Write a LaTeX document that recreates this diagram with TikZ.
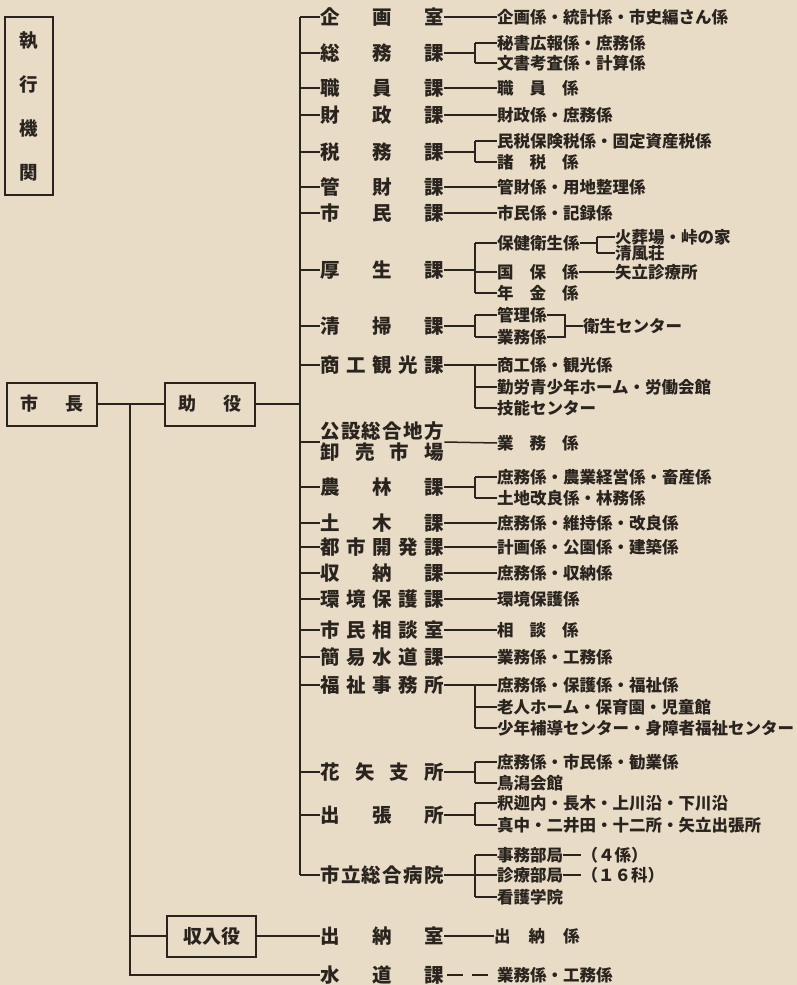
\documentclass[tikz,border=0pt]{standalone}
\usepackage{fontspec}
\newfontfamily\jp{Noto Sans CJK JP}
\usetikzlibrary{positioning}
\definecolor{paper}{RGB}{233,220,199}
\definecolor{ink}{RGB}{42,36,30}

\begin{document}
\begin{tikzpicture}[
    x=1pt, y=-1pt,
    link/.style={draw=ink, line width=1.5pt},
    frame/.style={draw=ink, line width=2pt, inner sep=0pt, text=ink, font=\jp\bfseries\fontsize{18}{18}\selectfont},
    dept/.style={anchor=west, inner sep=0pt, text width=124pt, text=ink, font=\jp\bfseries\fontsize{19.5}{21}\selectfont},
    item/.style={anchor=west, inner sep=0pt, text=ink, font=\jp\bfseries\fontsize{16.5}{17}\selectfont}
  ]
    \fill[paper] (0,0) rectangle (797,985);
    \useasboundingbox (0,0) rectangle (797,985);
    \node[frame, minimum width=48pt, minimum height=178pt, align=center, font=\jp\bfseries\fontsize{18.5}{44}\selectfont] (exec) at (29,106) {執\\行\\機\\関};
    \node[frame, minimum width=90pt, minimum height=43pt] (mayor) at (52,404) {市\hspace{27pt}長};
    \node[frame, minimum width=90pt, minimum height=43pt] (deputy) at (210,404) {助\hspace{27pt}役};
    \node[frame, minimum width=89pt, minimum height=41pt, font=\jp\bfseries\fontsize{19}{19}\selectfont] (treas) at (211.5,936) {収入役};
    \node[dept] (d1) at (320,17) {企\hfill 画\hfill 室};
    \node[dept] (d2) at (320,53) {総\hfill 務\hfill 課};
    \node[dept] (d3) at (320,88) {職\hfill 員\hfill 課};
    \node[dept] (d4) at (320,115) {財\hfill 政\hfill 課};
    \node[dept] (d5) at (320,152) {税\hfill 務\hfill 課};
    \node[dept] (d6) at (320,187) {管\hfill 財\hfill 課};
    \node[dept] (d7) at (320,213) {市\hfill 民\hfill 課};
    \node[dept] (d8) at (320,270) {厚\hfill 生\hfill 課};
    \node[dept] (d9) at (320,326) {清\hfill 掃\hfill 課};
    \node[dept] (d10) at (320,365) {商\hfill 工\hfill 観\hfill 光\hfill 課};
    \node[dept] (d11) at (320,442) {公\hfill 設\hfill 総\hfill 合\hfill 地\hfill 方\\卸\hfill 売\hfill 市\hfill 場};
    \node[dept] (d12) at (320,487) {農\hfill 林\hfill 課};
    \node[dept] (d13) at (320,523) {土\hfill 木\hfill 課};
    \node[dept] (d14) at (320,547) {都\hfill 市\hfill 開\hfill 発\hfill 課};
    \node[dept] (d15) at (320,573) {収\hfill 納\hfill 課};
    \node[dept] (d16) at (320,599) {環\hfill 境\hfill 保\hfill 護\hfill 課};
    \node[dept] (d17) at (320,630) {市\hfill 民\hfill 相\hfill 談\hfill 室};
    \node[dept] (d18) at (320,657) {簡\hfill 易\hfill 水\hfill 道\hfill 課};
    \node[dept] (d19) at (320,685) {福\hfill 祉\hfill 事\hfill 務\hfill 所};
    \node[dept] (d20) at (320,772) {花\hfill 矢\hfill 支\hfill 所};
    \node[dept] (d21) at (320,815) {出\hfill 張\hfill 所};
    \node[dept] (d22) at (320,875) {市\hfill 立\hfill 総\hfill 合\hfill 病\hfill 院};
    \node[dept] (c1) at (320,936) {出\hfill 納\hfill 室};
    \node[dept] (w1) at (320,975) {水\hfill 道\hfill 課};
    \node[item] (s1) at (497,17) {企画係・統計係・市史編さん係};
    \node[item] (s2a) at (497,43) {秘書広報係・庶務係};
    \node[item] (s2b) at (497,63) {文書考査係・計算係};
    \node[item] (s3) at (497,88) {職\hspace{16pt}員\hspace{16pt}係};
    \node[item] (s4) at (497,115) {財政係・庶務係};
    \node[item] (s5a) at (497,141) {民税保険税係・固定資産税係};
    \node[item] (s5b) at (497,162) {諸\hspace{16pt}税\hspace{16pt}係};
    \node[item] (s6) at (497,187) {管財係・用地整理係};
    \node[item] (s7) at (497,213) {市民係・記録係};
    \node[item] (s8a) at (497,243) {保健衛生係};
    \node[item] (s8b) at (497,272) {国\hspace{16pt}保\hspace{16pt}係};
    \node[item] (s8c) at (497,293) {年\hspace{16pt}金\hspace{16pt}係};
    \node[item] (t8a) at (615,237) {火葬場・峠の家};
    \node[item] (t8b) at (615,253) {清風荘};
    \node[item] (t8c) at (615,272) {矢立診療所};
    \node[item] (s9a) at (497,315) {管理係};
    \node[item] (s9b) at (497,337) {業務係};
    \node[item] (t9) at (583,326) {衛生センター};
    \node[item] (s10a) at (497,365) {商工係・観光係};
    \node[item] (s10b) at (497,387) {勤労青少年ホーム・労働会館};
    \node[item] (s10c) at (497,408) {技能センター};
    \node[item] (s11) at (497,443) {業\hspace{16pt}務\hspace{16pt}係};
    \node[item] (s12a) at (497,477) {庶務係・農業経営係・畜産係};
    \node[item] (s12b) at (497,498) {土地改良係・林務係};
    \node[item] (s13) at (497,523) {庶務係・維持係・改良係};
    \node[item] (s14) at (497,547) {計画係・公園係・建築係};
    \node[item] (s15) at (497,573) {庶務係・収納係};
    \node[item] (s16) at (497,599) {環境保護係};
    \node[item] (s17) at (497,630) {相\hspace{16pt}談\hspace{16pt}係};
    \node[item] (s18) at (497,657) {業務係・工務係};
    \node[item] (s19a) at (497,685) {庶務係・保護係・福祉係};
    \node[item] (s19b) at (497,707) {老人ホーム・保育園・児童館};
    \node[item] (s19c) at (497,728) {少年補導センター・身障者福祉センター};
    \node[item] (s20a) at (497,762) {庶務係・市民係・勧業係};
    \node[item] (s20b) at (497,783) {鳥潟会館};
    \node[item] (s21a) at (497,803) {釈迦内・長木・上川沿・下川沿};
    \node[item] (s21b) at (497,825) {真中・二井田・十二所・矢立出張所};
    \node[item] (s22a) at (497,855) {事務部局};
    \node[item] (s22b) at (497,875) {診療部局};
    \node[item] (s22c) at (497,897) {看護学院};
    \node[item, right=18pt of s22a] (u22a) {（４係）};
    \node[item, right=18pt of s22b] (u22b) {（１６科）};
    \node[item] (c1s) at (494,936) {出\hspace{18pt}納\hspace{18pt}係};
    \node[item] (w1s) at (497,975) {業務係・工務係};
    \coordinate (trunk) at (300,0);
    \coordinate (br) at (475,0);
    \coordinate (br2) at (597,0);
    \coordinate (br3) at (565,0);
    \coordinate (jct) at (130,404);
    \draw[link] (mayor.east) -- (deputy.west);
    \draw[link] (deputy.east) -- (trunk |- deputy.east);
    \draw[link] (jct) -- (jct |- w1.west) -- (w1.west);
    \draw[link] (jct |- treas.west) -- (treas.west);
    \draw[link] (treas.east) -- (c1.west);
    \draw[link] (c1.east) -- (c1s.west);
    \draw[link, dash pattern=on 16pt off 9pt, shorten <=3pt, shorten >=9pt] (w1.east) -- (w1s.west);
    \draw[link] (trunk |- d1.west) -- (trunk |- d22.west);
    \foreach \n in {1,...,22}
      \draw[link] (trunk |- d\n.west) -- (d\n.west);
    \foreach \n in {1,3,4,6,7,11,13,14,15,16,17,18}
      \draw[link] (d\n.east) -- (s\n.west);
    \foreach \n/\f/\l in {2/a/b, 5/a/b, 8/a/c, 9/a/b, 10/a/c, 12/a/b, 19/a/c, 20/a/b, 21/a/b, 22/a/c} {
      \draw[link] (d\n.east) -- (br |- d\n.east);
      \draw[link] (br |- s\n\f.west) -- (br |- s\n\l.west);
    }
    \foreach \s in {2a,2b,5a,5b,8a,8b,8c,9a,9b,10a,10b,10c,12a,12b,19a,19b,19c,20a,20b,21a,21b,22a,22b,22c}
      \draw[link] (br |- s\s.west) -- (s\s.west);
    \draw[link] (s8a.east) -- (br2 |- s8a.east);
    \draw[link] (br2 |- t8a.west) -- (br2 |- t8b.west);
    \draw[link] (br2 |- t8a.west) -- (t8a.west);
    \draw[link] (br2 |- t8b.west) -- (t8b.west);
    \draw[link] (s8b.east) -- (t8c.west);
    \draw[link] (s9a.east) -- (br3 |- s9a.east) -- (br3 |- s9b.east) -- (s9b.east);
    \draw[link] (br3 |- t9.west) -- (t9.west);
    \draw[link] (s22a.east) -- (u22a.west);
    \draw[link] (s22b.east) -- (u22b.west);
  \end{tikzpicture}
\end{document}
